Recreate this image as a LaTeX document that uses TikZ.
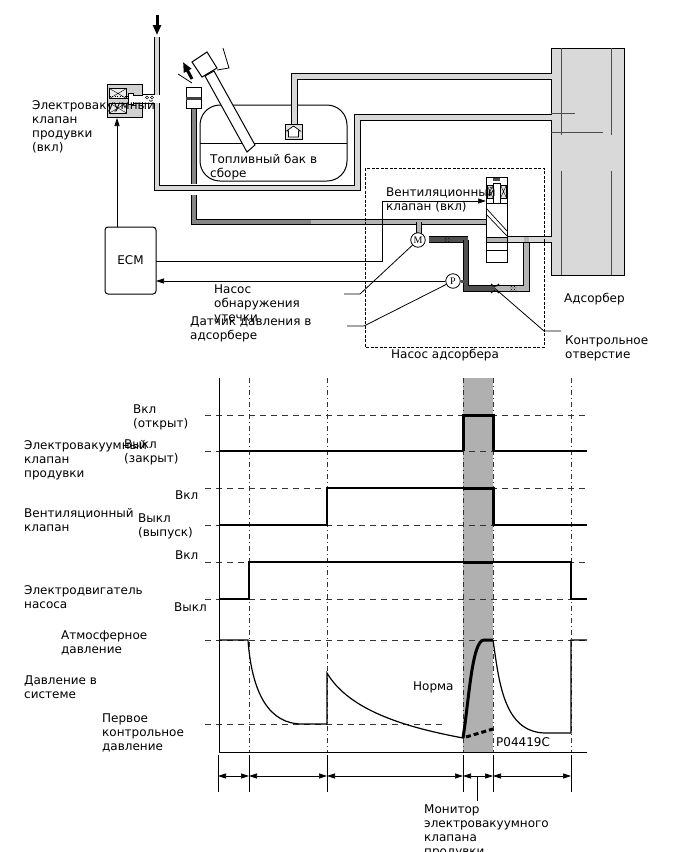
\documentclass[tikz,border=0pt]{standalone}
\usepackage{fontspec}
\setmainfont{DejaVu Sans}
\newfontfamily\sensorfont{Liberation Serif}
\usetikzlibrary{arrows.meta,patterns}
\definecolor{pipeL}{HTML}{D8D8D8}
\definecolor{pipeM}{HTML}{B4B4B4}
\definecolor{pipeD}{HTML}{858585}
\definecolor{pipeK}{HTML}{505050}
\definecolor{canfill}{HTML}{D9D9D9}
\definecolor{bandfill}{HTML}{B0B0B0}
\tikzset{
  x=1pt,y=-1pt,
  lbl/.style={anchor=north west,inner sep=0pt,align=left,font=\fontsize{12}{14}\selectfont},
  pipeline/.style={line width=4.4pt,color=#1,line join=miter},
  pipeedge/.style={line width=6.2pt,color=black,line join=miter},
  thin line/.style={line width=0.7pt},
  leader/.style={line width=0.8pt},
  sig/.style={line width=1.2pt,line join=miter},
  sigbold/.style={line width=3pt,line join=miter},
  guide/.style={line width=0.7pt,dash pattern=on 6pt off 5pt,color=black!80},
  vguide/.style={line width=0.7pt,dash pattern=on 5pt off 3pt on 1pt off 3pt,color=black!80},
  flow/.style={-{Triangle[length=8pt,width=5pt]},line width=0.7pt},
  bigarrow/.style={-{Triangle[length=10pt,width=8pt]},line width=3pt},
  span/.style={{Triangle[length=8pt,width=5pt]}-{Triangle[length=8pt,width=5pt]},line width=0.7pt},
  sensor/.style={circle,draw,fill=white,line width=0.8pt,inner sep=0pt,minimum size=14.5pt,font=\fontsize{10}{10}\sensorfont},
}
\newcommand{\tube}[2]{\draw[pipeedge] #2; \draw[pipeline=#1] #2;}
\begin{document}
\begin{tikzpicture}
\useasboundingbox (0,0) rectangle (688,852);
\fill[white] (0,0) rectangle (688,852);

% canister body
\draw[fill=canfill,line width=1pt] (551,48) rectangle (624,275);
\foreach \xx in {561,611}{
  \draw[line width=0.7pt,color=black!70] (\xx,48) -- (\xx,135);
  \draw[line width=0.7pt,color=black!70] (\xx,171) -- (\xx,275);
}
\draw[thin line,color=black!70] (551,113) -- (575,113);
\draw[thin line,color=black!70] (551,132) -- (603,132);

% fuel tank
\draw[line width=1pt,rounded corners=20pt] (200,105) rectangle (347,181);
\draw[thin line] (200,143) -- (347,143);

% evaporative lines
\tube{pipeL}{(157,37) -- (157,95)}
\tube{pipeL}{(157,103) -- (157,188) -- (357.5,188) -- (357.5,117.5) -- (551.5,117.5)}
\tube{pipeL}{(294.5,126) -- (294.5,76.5) -- (551.5,76.5)}
\tube{pipeD}{(194,108) -- (194,184)}
\tube{pipeD}{(194,195) -- (194,222) -- (310,222)}
\tube{pipeM}{(310,222) -- (487,222)}
\tube{pipeM}{(419,222) -- (419,235)}
\fill[pipeM] (416.8,219.8) rectangle (421.2,224);
\fill[pipeD] (308,219.8) rectangle (311,224.2);

% pump circuit
\tube{pipeK}{(429,239.5) -- (468,239.5)}
\tube{pipeK}{(466,239.5) -- (466,288.5) -- (495,288.5)}
\tube{pipeM}{(495,288.5) -- (526.5,288.5) -- (526.5,239.5)}
\tube{pipeL}{(508,239.5) -- (551.5,239.5)}
\fill[pipeM] (524.3,237.3) rectangle (528.7,241.7);
\foreach \cx/\cy in {447/239.5,513/288.5}{
  \fill[pattern=crosshatch dots,pattern color=black] (\cx-3,\cy-2) rectangle (\cx+3,\cy+2);
}

% vent valve
\node[draw,fill=white,line width=0.9pt,minimum width=21pt,minimum height=85pt,inner sep=0pt] (vent) at (496.5,219.5) {};
\fill[pipeM] (487,236.8) rectangle (506.5,242.2);
\draw[thin line] (486,237) -- (507,237) (486,242) -- (507,242);
\draw[thin line] (486,250) -- (507,250);
\draw[thin line] (486,203) -- (507,203);
\draw[thin line] (486,208) -- (507,231) (486,214) -- (507,236);
\draw[thin line] (493,203) -- (493,183) -- (500,183) -- (500,203);
\fill[black!70] (493,178) rectangle (500,181);
\foreach \vx/\vw in {487/6,500.5/6}{
  \draw[line width=0.5pt,fill=black!12] (\vx,185) rectangle (\vx+\vw,198);
  \draw[line width=0.4pt] (\vx,185) -- (\vx+\vw,198) (\vx,198) -- (\vx+\vw,185);
}

% orifice
\coordinate (orifice) at (495,288.5);
\draw[line width=1pt] (491,284) .. controls (494,287) and (496,287) .. (499,284);
\draw[line width=1pt] (491,293) .. controls (494,290) and (496,290) .. (499,293);

% pump motor and pressure sensor
\node[sensor] (motor) at (418,240) {M};
\node[sensor] (sensorP) at (453,281) {P};
\draw[line width=3pt,color=pipeK] (sensorP.east) -- (463.5,281);

% pump housing outline
\draw[line width=0.8pt,dash pattern=on 3pt off 1.5pt] (365,168) rectangle (544,347);

% purge valve
\node[draw,fill=black!18,line width=1pt,minimum width=35pt,minimum height=33pt,inner sep=0pt] (purge) at (124.5,100.5) {};
\foreach \by in {88.5,103}{
  \draw[line width=0.5pt,fill=black!8] (109.5,\by) rectangle (126.5,\by+10);
  \draw[line width=0.4pt] (109.5,\by) -- (126.5,\by+10) (109.5,\by+10) -- (126.5,\by);
}
\draw[line width=0.5pt,dotted] (109.5,96) -- (128,96) (109.5,98) -- (128,98);
\draw[line width=0.5pt,fill=white] (128,93) rectangle (133,104);
\draw[line width=0.8pt] (133,95) -- (142,95) (133,103) -- (142,103);
\fill[white] (133,96) rectangle (142,102);
\fill[white] (142,96) rectangle (160,102);
\draw[line width=1pt] (142,94.5) -- (154,94.5) (142,103) -- (154,103);
\draw[line width=0.5pt] (147,97.5) circle (1.6pt) (152,97.5) circle (1.6pt);

% canister-side return valve
\node[draw,fill=white,line width=0.9pt,minimum width=15pt,minimum height=21pt,inner sep=0pt] (chk) at (193.5,97.5) {};
\fill[black!75] (186,97) rectangle (201,100);

% fill neck and cap
\draw[line width=1pt,fill=white] (205,76) -- (214,71) -- (255,145) -- (247,152) -- cycle;
\draw[line width=1pt,fill=white] (192,62) -- (207,52) -- (217,68) -- (202,77) -- cycle;
\draw[line width=0.8pt] (217,70) -- (229,68) -- (223,48);
\draw[line width=0.8pt] (178,74) -- (192,83);

% pump module in the tank
\node[draw,fill=black!12,line width=1pt,minimum width=17pt,minimum height=15pt,inner sep=0pt] (module) at (293.5,131.5) {};
\draw[line width=0.7pt,fill=white] (286.5,131) -- (293.5,126) -- (300.5,131) -- (298.5,131) -- (298.5,137) -- (288.5,137) -- (288.5,131) -- cycle;

% flow arrows
\coordinate (inTop) at (157,15);
\coordinate (inEnd) at (157,35);
\draw[bigarrow] (inTop) -- (inEnd);
\coordinate (outA) at (192,79);
\coordinate (outB) at (183,62);
\draw[bigarrow] (outA) -- (outB);

% ECM and its wiring
\node[draw,line width=1pt,rounded corners=3pt,minimum width=51pt,minimum height=67pt,inner sep=0pt,
      font=\fontsize{12}{14}\selectfont] (ecm) at (130.5,260.5) {ECM\hspace{10pt}};
\draw[flow] (117,227) -- (117,118);
\draw[flow] (sensorP.west) -- (156,281);
\coordinate (ventIn) at (486,201);
\draw[flow] (156,261) -- (382,261) -- (382,201) -- (ventIn);

% leaders
\draw[leader] (motor) -- (360,294) -- (344,294);
\draw[leader] (sensorP) -- (364,326) -- (347,326);
\draw[leader] (orifice) -- (544,331) -- (561,331);

% ---- timing chart ----
\fill[bandfill] (463,378) rectangle (493,752);
\foreach \yy in {415,451,488,525,562,599,640}{
  \draw[guide] (205,\yy) -- (587,\yy);
}
\draw[guide] (205,724) -- (443,724);
\foreach \xx in {249,327,463,493,571}{
  \draw[vguide] (\xx,378) -- (\xx,752);
}
\draw[line width=1pt] (219,378) -- (219,752) -- (587,752);

% purge valve state
\draw[sig] (219,451) -- (463,451);
\draw[sigbold] (463,451) -- (463,415) -- (493,415) -- (493,451);
\draw[sig] (493,451) -- (587,451);
% vent valve state
\draw[sig] (219,525) -- (327,525) -- (327,488) -- (463,488);
\draw[sigbold] (463,488) -- (493,488) -- (493,525);
\draw[sig] (493,525) -- (587,525);
% pump motor state
\draw[sig] (219,599) -- (249,599) -- (249,562) -- (463,562);
\draw[sigbold] (463,562) -- (493,562);
\draw[sig] (493,562) -- (571,562) -- (571,599) -- (587,599);
% system pressure
\draw[sig] (219,640) -- (248,640) .. controls (252,695) and (270,724) .. (302,724) -- (327,724) -- (327,673)
   .. controls (350,712) and (410,728) .. (463,738);
\draw[line width=3pt] (463,738) .. controls (469,700) and (472,640) .. (484,640) -- (493,640);
\draw[line width=3pt,dash pattern=on 5pt off 3pt] (466,737) -- (493,729);
\draw[sig] (493,640) .. controls (499,680) and (503,733) .. (546,733) -- (571,733) -- (571,640) -- (587,640);

% time spans
\foreach \xx in {218,249,327,463,493,571}{
  \draw[thin line] (\xx,755) -- (\xx,792);
}
\coordinate (t0) at (218,776); \coordinate (t1) at (249,776); \coordinate (t2) at (327,776);
\coordinate (t3) at (463,776); \coordinate (t4) at (493,776); \coordinate (t5) at (571,776);
\draw[span] (t0) -- (t1);
\draw[span] (t1) -- (t2);
\draw[span] (t2) -- (t3);
\draw[span] (t3) -- (t4);
\draw[span] (t4) -- (t5);
\coordinate (monTop) at (477,776);
\coordinate (monEnd) at (477,801);
\draw[thin line] (monTop) -- (monEnd);

% labels of the system view
\node[lbl] (tPurge) at (32,100) {Электровакуумный\\клапан\\продувки\\(вкл)};
\node[lbl] (tTank) at (210,154) {Топливный бак в\\сборе};
\node[lbl] (tVent) at (386,187) {Вентиляционный\\клапан (вкл)};
\node[lbl] (tLeak) at (214,285) {Насос\\обнаружения\\утечки};
\node[lbl] (tSens) at (190,317) {Датчик давления в\\адсорбере};
\node[lbl] (tPump) at (391,349) {Насос адсорбера};
\node[lbl] (tCan) at (564,293) {Адсорбер};
\node[lbl] (tOrif) at (565,336) {Контрольное\\отверстие};

% labels of the timing chart
\node[lbl] (c1) at (133,405) {Вкл\\(открыт)};
\node[lbl] (c2) at (124,440) {Выкл\\(закрыт)};
\node[lbl] (c3) at (24,440) {Электровакуумный\\клапан\\продувки};
\node[lbl] (c4) at (175,491) {Вкл};
\node[lbl] (c5) at (138,514) {Выкл\\(выпуск)};
\node[lbl] (c6) at (24,508) {Вентиляционный\\клапан};
\node[lbl] (c7) at (175,551) {Вкл};
\node[lbl] (c8) at (174,603) {Выкл};
\node[lbl] (c9) at (24,585) {Электродвигатель\\насоса};
\node[lbl] (c10) at (61,631) {Атмосферное\\давление};
\node[lbl] (c11) at (24,676) {Давление в\\системе};
\node[lbl] (c12) at (102,714) {Первое\\контрольное\\давление};
\node[lbl] (c13) at (413,682) {Норма};
\node[lbl] (c14) at (496,737) {P04419C};
\node[lbl] (c15) at (424,805) {Монитор\\электровакуумного\\клапана\\продувки};
\end{tikzpicture}
\end{document}
